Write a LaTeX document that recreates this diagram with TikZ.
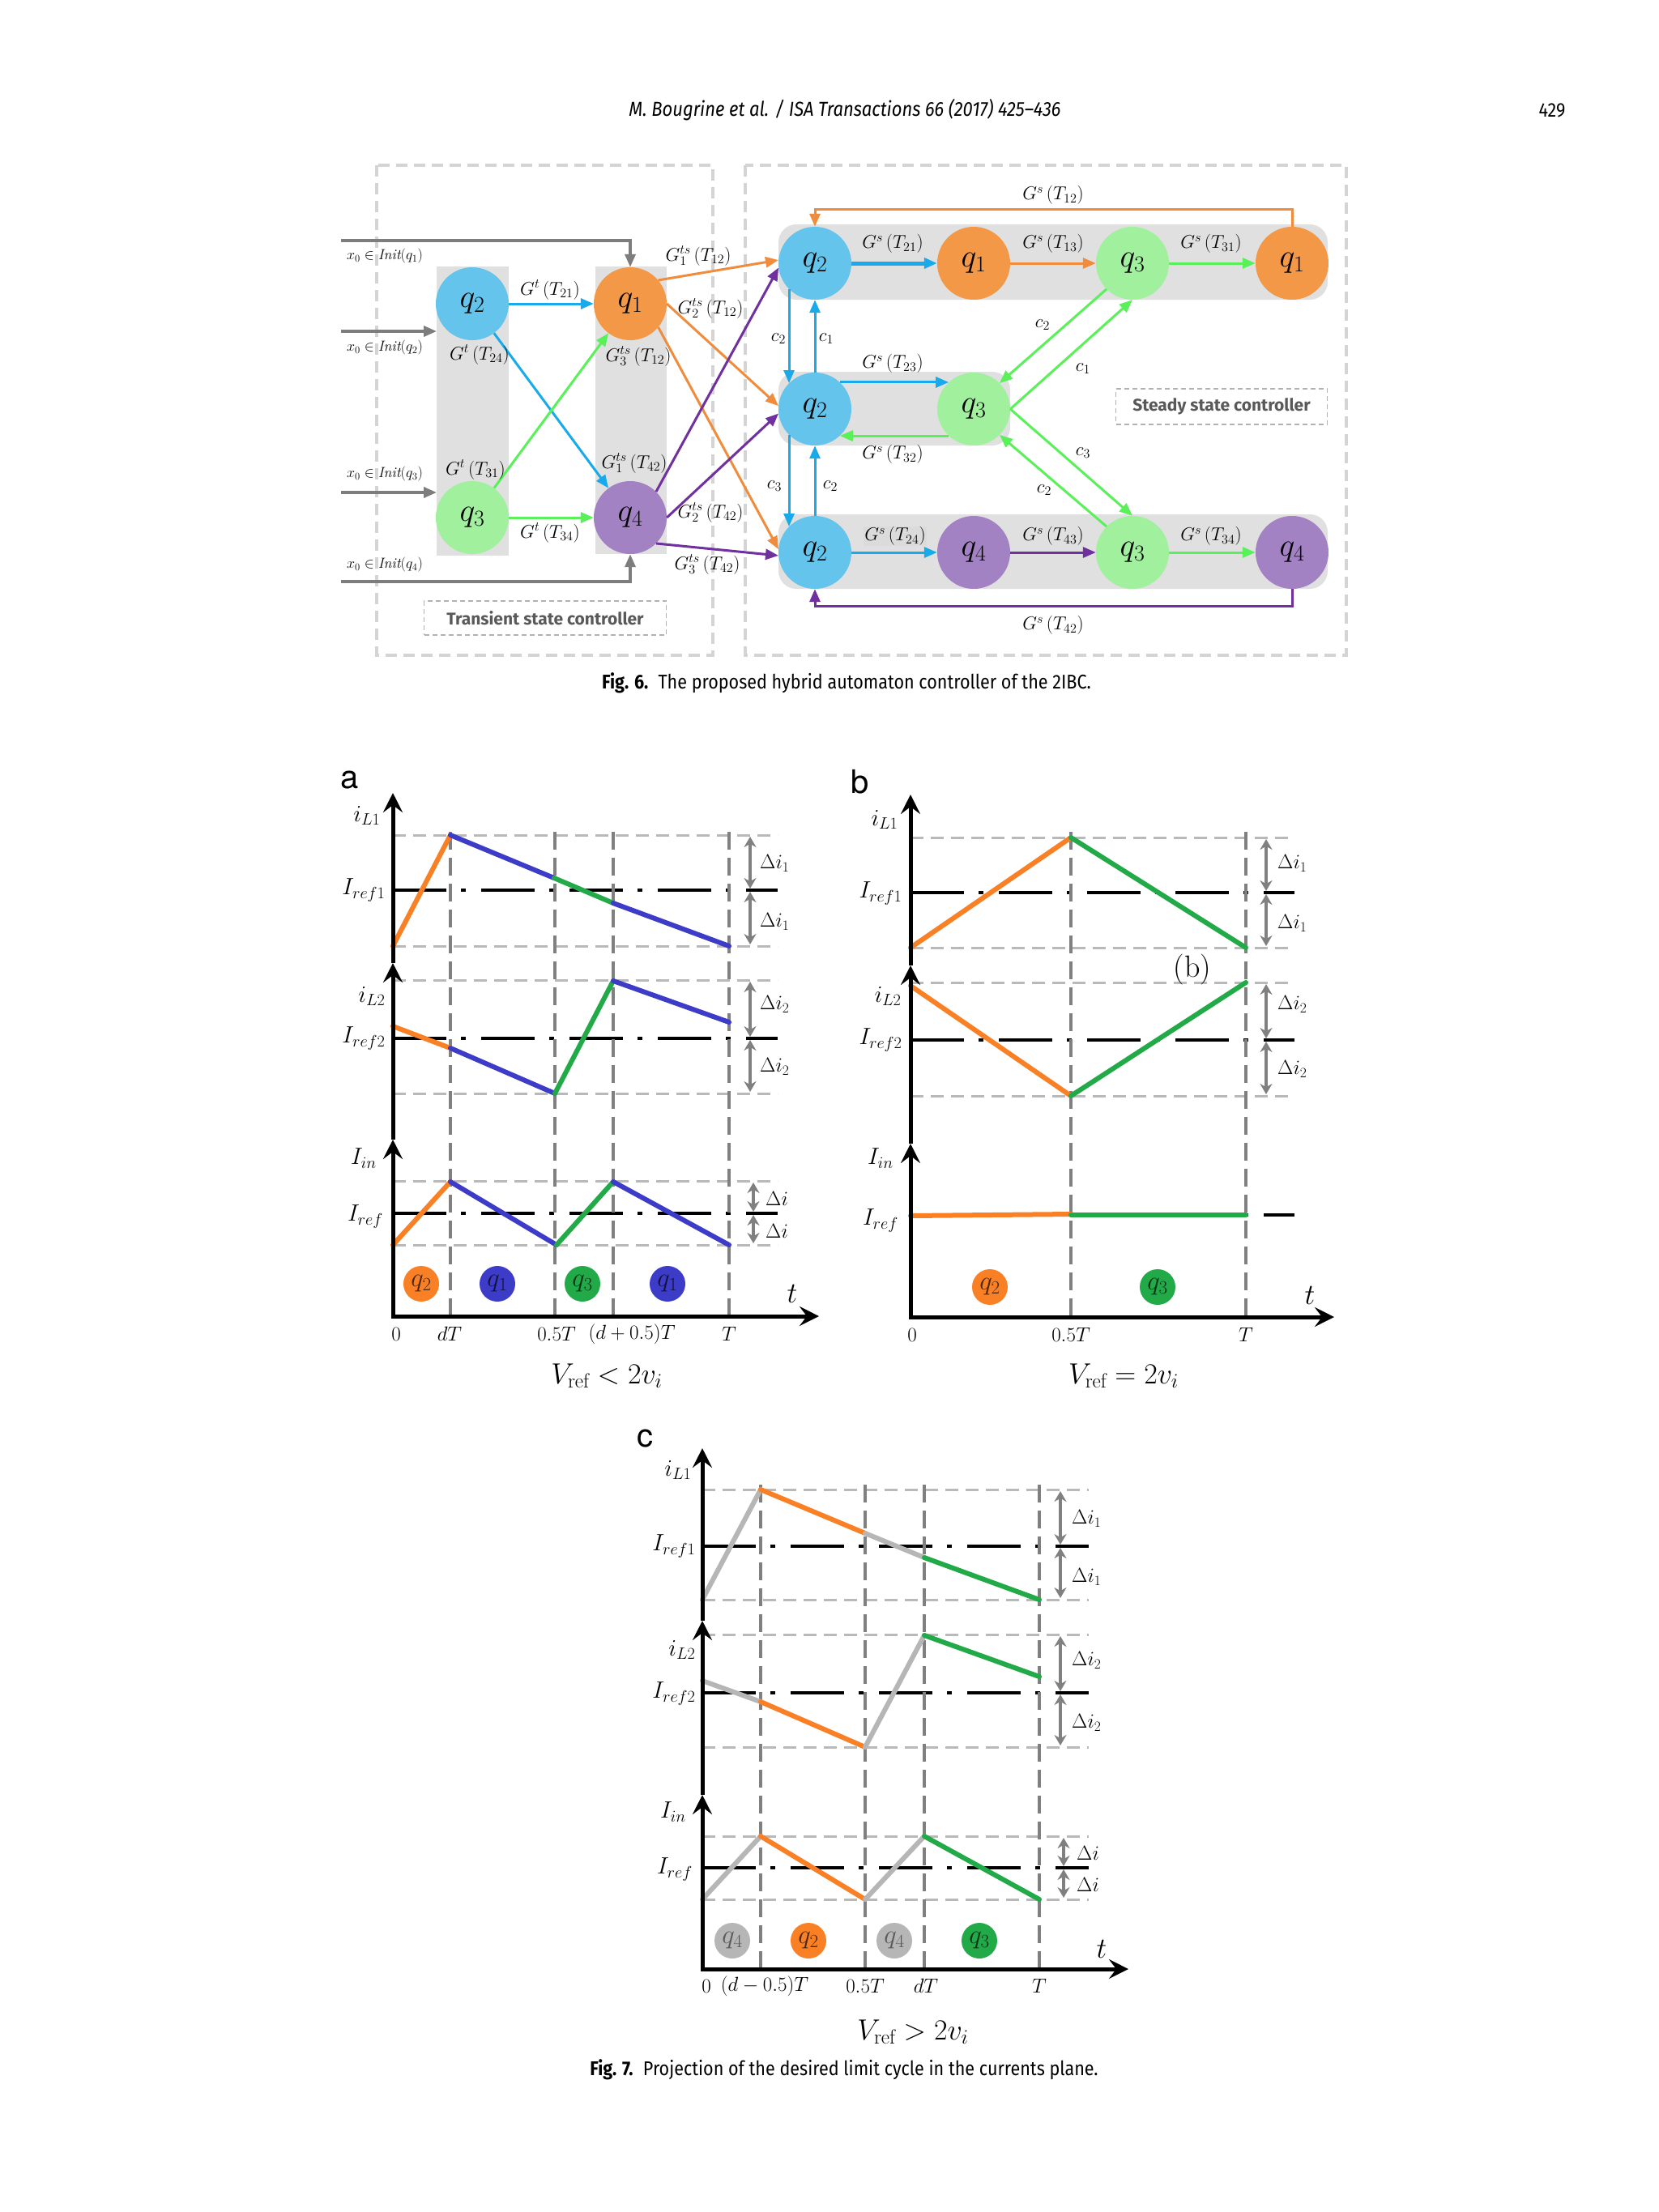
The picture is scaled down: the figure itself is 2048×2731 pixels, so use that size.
\RequirePackage{fix-cm}
\documentclass[tikz,border=0pt]{standalone}
\usepackage{fontspec}
\newfontfamily\capfont[FakeStretch=0.88]{Fira Sans}
\newfontfamily\boxfont{Fira Sans}
\newfontfamily\helv{TeX Gyre Heros}
\usetikzlibrary{arrows.meta,calc}
\definecolor{nq1}{RGB}{243,152,70}
\definecolor{nq2}{RGB}{100,196,235}
\definecolor{nq3}{RGB}{160,240,158}
\definecolor{nq4}{RGB}{163,130,195}
\definecolor{ablue}{RGB}{25,170,235}
\definecolor{aorange}{RGB}{240,140,60}
\definecolor{agreen}{RGB}{90,240,90}
\definecolor{apurple}{RGB}{112,48,160}
\definecolor{agray}{RGB}{125,125,125}
\definecolor{bgg}{RGB}{224,224,224}
\definecolor{boxc}{RGB}{212,212,212}
\definecolor{corange}{RGB}{250,128,38}
\definecolor{cblue}{RGB}{60,60,200}
\definecolor{cgreen}{RGB}{35,170,72}
\definecolor{cgray}{RGB}{182,182,182}
\definecolor{ldash}{RGB}{185,185,185}
\definecolor{vdashc}{RGB}{128,128,128}
\begin{document}
\begin{tikzpicture}[x=1pt,y=-1pt,
  nd/.style={circle,minimum size=90pt,inner sep=0pt,font=\fontsize{40}{42}\selectfont},
  lbl/.style={inner sep=1pt,font=\fontsize{23}{25}\selectfont},
  ilbl/.style={inner sep=1pt,font=\fontsize{18}{20}\selectfont},
  arrtip/.style={-{Triangle[length=16pt,width=13pt]}},
  garr/.style={arrtip,draw=agray,line width=3.5pt},
  barr/.style={arrtip,draw=ablue,line width=3pt},
  oarr/.style={arrtip,draw=aorange,line width=3pt},
  grarr/.style={arrtip,draw=agreen,line width=3pt},
  parr/.style={arrtip,draw=apurple,line width=3pt},
  boxd/.style={draw=boxc,line width=4pt,dash pattern=on 14pt off 8pt},
  tbox/.style={draw=gray!60,line width=1.5pt,dash pattern=on 6pt off 4pt},
  gdash/.style={draw=ldash,line width=3pt,dash pattern=on 16pt off 9pt},
  vdash/.style={draw=vdashc,line width=4pt,dash pattern=on 22pt off 10pt},
  ddot/.style={draw=black,line width=3.5pt,dash pattern=on 66pt off 18pt on 6pt off 19pt},
  axisl/.style={draw=black,line width=5pt,-{Stealth[length=24pt,width=24pt,inset=9pt]}},
  crv/.style={line width=6pt,line cap=round},
  darr/.style={draw=vdashc,line width=4pt,{Stealth[length=13pt,width=15pt]}-{Stealth[length=13pt,width=15pt]}},
  clbl/.style={inner sep=1pt,font=\fontsize{29}{30}\selectfont},
  xlbl/.style={inner sep=1pt,font=\fontsize{25}{27}\selectfont},
  dlbl/.style={inner sep=1pt,anchor=west,font=\fontsize{25}{26}\selectfont},
  sc/.style={circle,minimum size=44pt,inner sep=0pt,font=\fontsize{33}{34}\selectfont},
  plet/.style={inner sep=0pt,font=\helv\fontsize{40}{42}\selectfont},
  vlbl/.style={inner sep=1pt,font=\fontsize{36}{38}\selectfont},
  captxt/.style={inner sep=0pt,font=\capfont\fontsize{24.5}{26}\selectfont}
]
\path[use as bounding box,fill=white] (0,0) rectangle (2048,2731);

% header
\node[captxt,font=\capfont\itshape\fontsize{25}{27}\selectfont] (hdr) at (1043,136) {M. Bougrine et al. / ISA Transactions 66 (2017) 425–436};
\node[captxt] (pgn) at (1916,136) {429};

% ================= Fig 6 =================
\draw[boxd] (465,204) rectangle (880,809);
\draw[boxd] (920,204) rectangle (1662,809);
\fill[bgg] (539,329) rectangle (628,686);
\fill[bgg] (735,329) rectangle (823,684);
\fill[bgg,rounded corners=22pt] (961,277) rectangle (1639,370);
\fill[bgg,rounded corners=22pt] (961,459) rectangle (1247,550);
\fill[bgg,rounded corners=22pt] (961,635) rectangle (1639,727);

\node[nd,fill=nq2] (tq2) at (583,375) {$q_2$};
\node[nd,fill=nq1] (tq1) at (778,375) {$q_1$};
\node[nd,fill=nq3] (tq3) at (583,639) {$q_3$};
\node[nd,fill=nq4] (tq4) at (778,639) {$q_4$};

\node[nd,fill=nq2] (r1a) at (1006,325) {$q_2$};
\node[nd,fill=nq1] (r1b) at (1202,325) {$q_1$};
\node[nd,fill=nq3] (r1c) at (1398,325) {$q_3$};
\node[nd,fill=nq1] (r1d) at (1595,325) {$q_1$};
\node[nd,fill=nq2] (r2a) at (1006,505) {$q_2$};
\node[nd,fill=nq3] (r2b) at (1202,505) {$q_3$};
\node[nd,fill=nq2] (r3a) at (1006,682) {$q_2$};
\node[nd,fill=nq4] (r3b) at (1202,682) {$q_4$};
\node[nd,fill=nq3] (r3c) at (1398,682) {$q_3$};
\node[nd,fill=nq4] (r3d) at (1595,682) {$q_4$};

% init arrows
\coordinate (i1) at (421,297);
\coordinate (i2) at (421,409);
\coordinate (i2e) at (539,409);
\coordinate (i3) at (421,608);
\coordinate (i3e) at (539,608);
\coordinate (i4) at (421,718);
\draw[garr] (i1) -| (tq1.north);
\draw[garr] (i2) -- (i2e);
\draw[garr] (i3) -- (i3e);
\draw[garr] (i4) -| (tq4.south);
\node[ilbl] (li1) at (475,316) {$x_0\in \mathit{Init}(q_1)$};
\node[ilbl] (li2) at (475,429) {$x_0\in \mathit{Init}(q_2)$};
\node[ilbl] (li3) at (475,585) {$x_0\in \mathit{Init}(q_3)$};
\node[ilbl] (li4) at (475,697) {$x_0\in \mathit{Init}(q_4)$};

% transient arrows
\draw[barr] (tq2) -- (tq1);
\draw[barr] (tq2) -- (tq4);
\draw[grarr] (tq3) -- (tq1);
\draw[grarr] (tq3) -- (tq4);
\node[lbl] (l21) at (679,358) {$G^{t}\,(T_{21})$};
\node[lbl] (l24) at (592,438) {$G^{t}\,(T_{24})$};
\node[lbl] (l31) at (587,580) {$G^{t}\,(T_{31})$};
\node[lbl] (l34) at (679,658) {$G^{t}\,(T_{34})$};

% transient -> steady
\draw[oarr] (tq1.40) -- (r1a.175);
\draw[oarr] (tq1.east) -- (r2a.175);
\draw[oarr] (tq1.-40) -- (r3a.175);
\draw[parr] (tq4.45) -- (r1a.187);
\draw[parr] (tq4.east) -- (r2a.187);
\draw[parr] (tq4.-45) -- (r3a.185);
\node[lbl] (g1a) at (862,316) {$G_1^{ts}\,(T_{12})$};
\node[lbl] (g2a) at (877,381) {$G_2^{ts}\,(T_{12})$};
\node[lbl] (g3a) at (788,440) {$G_3^{ts}\,(T_{12})$};
\node[lbl] (g1b) at (783,572) {$G_1^{ts}\,(T_{42})$};
\node[lbl] (g2b) at (877,633) {$G_2^{ts}\,(T_{42})$};
\node[lbl] (g3b) at (873,697) {$G_3^{ts}\,(T_{42})$};

\node[tbox,minimum width=299pt,minimum height=42pt,inner sep=0pt,text=black!65,font=\boxfont\bfseries\fontsize{21}{23}\selectfont] (tsc) at (673,763) {Transient state controller};

% steady rows
\draw[barr,line width=5pt] (r1a) -- (r1b);
\draw[oarr] (r1b) -- (r1c);
\draw[grarr] (r1c) -- (r1d);
\coordinate (top12) at (1300,258);
\draw[oarr] (r1d.north) |- (top12) -| (r1a.north);
\node[lbl] (s12) at (1300,241) {$G^{s}\,(T_{12})$};
\node[lbl] (s21) at (1102,301) {$G^{s}\,(T_{21})$};
\node[lbl] (s13) at (1300,301) {$G^{s}\,(T_{13})$};
\node[lbl] (s31) at (1495,301) {$G^{s}\,(T_{31})$};

\draw[barr] (r1a.225) -- (r2a.135);
\draw[barr] (r2a.north) -- (r1a.south);
\draw[barr] (r2a.225) -- (r3a.135);
\draw[barr] (r3a.north) -- (r2a.south);
\node[lbl] (c2a) at (961,418) {$c_2$};
\node[lbl] (c1a) at (1020,418) {$c_1$};
\node[lbl] (c3a) at (956,600) {$c_3$};
\node[lbl] (c2b) at (1025,600) {$c_2$};

\draw[barr] (r2a.47) -- (r2b.133);
\draw[grarr] (r2b.227) -- (r2a.313);
\node[lbl] (s23) at (1102,449) {$G^{s}\,(T_{23})$};
\node[lbl] (s32) at (1102,561) {$G^{s}\,(T_{32})$};

\draw[grarr] (r1c.225) -- (r2b.45);
\draw[grarr] (r2b.east) -- (r1c.south);
\draw[grarr] (r2b.east) -- (r3c.north);
\draw[grarr] (r3c.135) -- (r2b.315);
\node[lbl] (c2c) at (1287,401) {$c_2$};
\node[lbl] (c1c) at (1337,455) {$c_1$};
\node[lbl] (c3c) at (1337,559) {$c_3$};
\node[lbl] (c2d) at (1289,605) {$c_2$};

\node[tbox,minimum width=261pt,minimum height=44pt,inner sep=0pt,text=black!65,font=\boxfont\bfseries\fontsize{21}{23}\selectfont] (ssc) at (1508,502) {Steady state controller};

\draw[barr] (r3a) -- (r3b);
\draw[parr] (r3b) -- (r3c);
\draw[grarr] (r3c) -- (r3d);
\coordinate (bot42) at (1300,748);
\draw[parr] (r3d.south) |- (bot42) -| (r3a.south);
\node[lbl,fill=black!14] (s24) at (1105,662) {$G^{s}\,(T_{24})$};
\node[lbl] (s43) at (1300,662) {$G^{s}\,(T_{43})$};
\node[lbl] (s34) at (1495,662) {$G^{s}\,(T_{34})$};
\node[lbl] (s42) at (1300,772) {$G^{s}\,(T_{42})$};

\node[captxt] (cap6) at (1045,843) {\textbf{Fig. 6.}\enspace The proposed hybrid automaton controller of the 2IBC.};

% ================= Fig 7 a =================
\node[plet] (pa) at (432,963) {a};
\foreach \y in {1031,1168,1210,1350,1458,1537} \draw[gdash] (485,\y) -- (960,\y);
\foreach \y in {1099,1282,1498} \draw[ddot] (485,\y) -- (960,\y);
\foreach \x in {556,685,757,900} \draw[vdash] (\x,1027) -- (\x,1625);
\draw[crv,corange] (485,1168) -- (556,1031);
\draw[crv,cblue] (556,1031) -- (684,1084);
\draw[crv,cgreen] (684,1084) -- (757,1115);
\draw[crv,cblue] (757,1115) -- (900,1168);
\draw[crv,corange] (485,1267) -- (556,1294);
\draw[crv,cblue] (556,1294) -- (685,1350);
\draw[crv,cgreen] (685,1350) -- (757,1211);
\draw[crv,cblue] (757,1211) -- (900,1262);
\draw[crv,corange] (485,1537) -- (556,1459);
\draw[crv,cblue] (556,1459) -- (687,1537);
\draw[crv,cgreen] (687,1537) -- (757,1459);
\draw[crv,cblue] (757,1459) -- (900,1537);
\draw[axisl] (485,1625) -- (485,1407);
\draw[axisl] (485,1407) -- (485,1189);
\draw[axisl] (485,1189) -- (485,979);
\draw[axisl] (483,1625) -- (1011,1625);
\draw[darr] (926,1033) -- (926,1097);
\draw[darr] (926,1101) -- (926,1166);
\draw[darr] (926,1212) -- (926,1280);
\draw[darr] (926,1284) -- (926,1348);
\draw[darr] (930,1460) -- (930,1496);
\draw[darr] (930,1500) -- (930,1535);
\node[dlbl] (da1) at (937,1066) {$\Delta i_1$};
\node[dlbl] (da2) at (937,1138) {$\Delta i_1$};
\node[dlbl] (da3) at (937,1240) {$\Delta i_2$};
\node[dlbl] (da4) at (937,1317) {$\Delta i_2$};
\node[dlbl] (da5) at (944,1480) {$\Delta i$};
\node[dlbl] (da6) at (944,1520) {$\Delta i$};
\node[clbl] (ya1) at (453,1007) {$i_{L1}$};
\node[clbl] (ya2) at (449,1099) {$I_{ref1}$};
\node[clbl] (ya3) at (459,1230) {$i_{L2}$};
\node[clbl] (ya4) at (449,1282) {$I_{ref2}$};
\node[clbl] (ya5) at (449,1430) {$I_{in}$};
\node[clbl] (ya6) at (451,1502) {$I_{ref}$};
\node[sc,fill=corange,text=corange!30!black] (ea1) at (520,1585) {$q_2$};
\node[sc,fill=cblue,text=cblue!30!black] (ea2) at (614,1585) {$q_1$};
\node[sc,fill=cgreen,text=cgreen!30!black] (ea3) at (719,1585) {$q_3$};
\node[sc,fill=cblue,text=cblue!30!black] (ea4) at (824,1585) {$q_1$};
\node[xlbl] (xa0) at (489,1647) {$0$};
\node[xlbl] (xa1) at (555,1647) {$dT$};
\node[xlbl] (xa2) at (687,1647) {$0.5T$};
\node[xlbl] (xa3) at (780,1647) {$(d+0.5)T$};
\node[xlbl] (xa4) at (900,1647) {$T$};
\node[vlbl] (ta) at (978,1597) {$t$};
\node[vlbl] (va) at (749,1699) {$V_{\mathrm{ref}}<2v_i$};

% ================= Fig 7 b =================
\node[plet] (pb) at (1062,965) {b};
\foreach \y in {1034,1170,1213,1353} \draw[gdash] (1124,\y) -- (1598,\y);
\foreach \y in {1102,1284,1500} \draw[ddot] (1124,\y) -- (1598,\y);
\foreach \x in {1322,1538} \draw[vdash] (\x,1027) -- (\x,1626);
\draw[crv,corange] (1124,1170) -- (1322,1034);
\draw[crv,cgreen] (1322,1034) -- (1538,1170);
\draw[crv,corange] (1124,1217) -- (1322,1353);
\draw[crv,cgreen] (1322,1353) -- (1538,1213);
\draw[crv,corange] (1124,1501) -- (1322,1499);
\draw[crv,cgreen] (1322,1500) -- (1538,1500);
\draw[axisl] (1124,1626) -- (1124,1412);
\draw[axisl] (1124,1412) -- (1124,1192);
\draw[axisl] (1124,1192) -- (1124,981);
\draw[axisl] (1122,1626) -- (1647,1626);
\draw[darr] (1563,1036) -- (1563,1100);
\draw[darr] (1563,1104) -- (1563,1168);
\draw[darr] (1563,1215) -- (1563,1282);
\draw[darr] (1563,1286) -- (1563,1351);
\node[dlbl] (db1) at (1576,1066) {$\Delta i_1$};
\node[dlbl] (db2) at (1576,1140) {$\Delta i_1$};
\node[dlbl] (db3) at (1576,1240) {$\Delta i_2$};
\node[dlbl] (db4) at (1576,1320) {$\Delta i_2$};
\node[vlbl,font=\fontsize{38}{40}\selectfont] (bb) at (1472,1197) {(b)};
\node[clbl] (yb1) at (1092,1012) {$i_{L1}$};
\node[clbl] (yb2) at (1087,1103) {$I_{ref1}$};
\node[clbl] (yb3) at (1096,1230) {$i_{L2}$};
\node[clbl] (yb4) at (1087,1284) {$I_{ref2}$};
\node[clbl] (yb5) at (1087,1430) {$I_{in}$};
\node[clbl] (yb6) at (1087,1507) {$I_{ref}$};
\node[sc,fill=corange,text=corange!30!black] (eb1) at (1222,1589) {$q_2$};
\node[sc,fill=cgreen,text=cgreen!30!black] (eb2) at (1429,1589) {$q_3$};
\node[xlbl] (xb0) at (1126,1648) {$0$};
\node[xlbl] (xb1) at (1322,1648) {$0.5T$};
\node[xlbl] (xb2) at (1538,1648) {$T$};
\node[vlbl] (tb) at (1617,1599) {$t$};
\node[vlbl] (vb) at (1387,1699) {$V_{\mathrm{ref}}=2v_i$};

% ================= Fig 7 c =================
\node[plet] (pc) at (796,1776) {c};
\foreach \y in {1839,1975,2018,2157,2267,2345} \draw[gdash] (867,\y) -- (1344,\y);
\foreach \y in {1909,2090,2306} \draw[ddot] (867,\y) -- (1344,\y);
\foreach \x in {939,1068,1141,1283} \draw[vdash] (\x,1833) -- (\x,2431);
\draw[crv,cgray] (867,1975) -- (939,1839);
\draw[crv,corange] (939,1839) -- (1068,1893);
\draw[crv,cgray] (1068,1893) -- (1141,1923);
\draw[crv,cgreen] (1141,1923) -- (1283,1975);
\draw[crv,cgray] (867,2075) -- (939,2101);
\draw[crv,corange] (939,2101) -- (1068,2157);
\draw[crv,cgray] (1068,2157) -- (1141,2019);
\draw[crv,cgreen] (1141,2019) -- (1283,2070);
\draw[crv,cgray] (867,2345) -- (939,2267);
\draw[crv,corange] (939,2267) -- (1068,2345);
\draw[crv,cgray] (1068,2345) -- (1141,2267);
\draw[crv,cgreen] (1141,2267) -- (1283,2345);
\draw[axisl] (867,2431) -- (867,2216);
\draw[axisl] (867,2216) -- (867,2001);
\draw[axisl] (867,2001) -- (867,1788);
\draw[axisl] (865,2431) -- (1393,2431);
\draw[darr] (1309,1841) -- (1309,1907);
\draw[darr] (1309,1911) -- (1309,1973);
\draw[darr] (1309,2020) -- (1309,2088);
\draw[darr] (1309,2092) -- (1309,2155);
\draw[darr] (1313,2269) -- (1313,2304);
\draw[darr] (1313,2308) -- (1313,2343);
\node[dlbl] (dc1) at (1322,1875) {$\Delta i_1$};
\node[dlbl] (dc2) at (1322,1947) {$\Delta i_1$};
\node[dlbl] (dc3) at (1322,2050) {$\Delta i_2$};
\node[dlbl] (dc4) at (1322,2127) {$\Delta i_2$};
\node[dlbl] (dc5) at (1328,2288) {$\Delta i$};
\node[dlbl] (dc6) at (1328,2327) {$\Delta i$};
\node[clbl] (yc1) at (837,1815) {$i_{L1}$};
\node[clbl] (yc2) at (832,1909) {$I_{ref1}$};
\node[clbl] (yc3) at (842,2037) {$i_{L2}$};
\node[clbl] (yc4) at (832,2091) {$I_{ref2}$};
\node[clbl] (yc5) at (831,2237) {$I_{in}$};
\node[clbl] (yc6) at (833,2308) {$I_{ref}$};
\node[sc,fill=cgray,text=black!65] (ec1) at (904,2396) {$q_4$};
\node[sc,fill=corange,text=corange!30!black] (ec2) at (998,2396) {$q_2$};
\node[sc,fill=cgray,text=black!65] (ec3) at (1104,2396) {$q_4$};
\node[sc,fill=cgreen,text=cgreen!30!black] (ec4) at (1209,2396) {$q_3$};
\node[xlbl] (xc0) at (872,2452) {$0$};
\node[xlbl] (xc1) at (944,2452) {$(d-0.5)T$};
\node[xlbl] (xc2) at (1068,2452) {$0.5T$};
\node[xlbl] (xc3) at (1143,2452) {$dT$};
\node[xlbl] (xc4) at (1283,2452) {$T$};
\node[vlbl] (tc) at (1360,2406) {$t$};
\node[vlbl] (vc) at (1127,2509) {$V_{\mathrm{ref}}>2v_i$};

\node[captxt] (cap7) at (1042,2555) {\textbf{Fig. 7.}\enspace Projection of the desired limit cycle in the currents plane.};
\end{tikzpicture}
\end{document}
